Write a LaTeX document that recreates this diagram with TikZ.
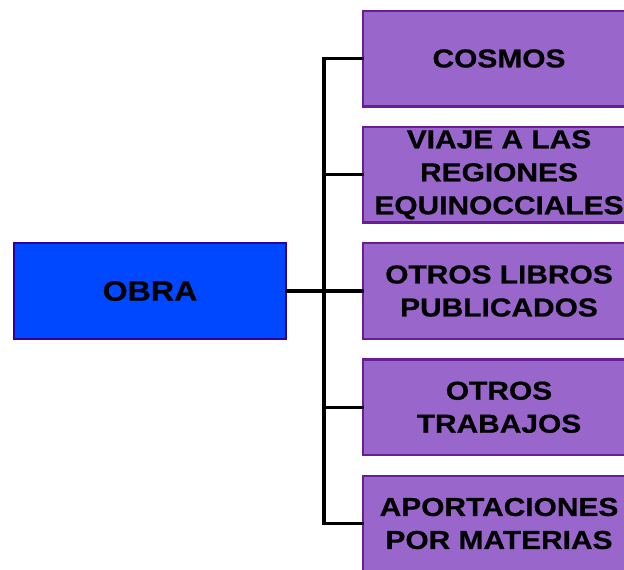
\documentclass[tikz,border=0pt]{standalone}
\usepackage{fontspec}
\newfontfamily\boxfont[FakeStretch=1.15, BoldFeatures={FakeBold=0.6}]{Liberation Sans}
\usetikzlibrary{positioning}
\definecolor{obrablue}{RGB}{0,72,255}
\definecolor{obraline}{RGB}{48,0,160}
\definecolor{itemfill}{RGB}{153,102,204}
\definecolor{itemline}{RGB}{106,30,150}

\begin{document}
\begin{tikzpicture}[
                x=1pt, y=-1pt,
                mainbox/.style={draw=obraline, fill=obrablue, line width=2.4pt,
                    minimum width=271.6pt, minimum height=95.6pt, inner sep=0pt,
                    font=\boxfont\bfseries\fontsize{28}{33}\selectfont},
                itembox/.style={draw=itemline, fill=itemfill, line width=2.4pt,
                    minimum width=271.6pt, minimum height=95.6pt, inner sep=0pt, align=center,
                    font=\boxfont\bfseries\fontsize{26}{33}\selectfont},
                conn/.style={line width=3.2pt, line cap=rect},
                node distance=18.25pt,
            ]
            \useasboundingbox (0,0) rectangle (624,570);
            \begin{scope}
            \clip (0,0) rectangle (624,570);

            % === root ===
            \node[mainbox] (obra) at (150,291) {OBRA};

            % === branches ===
            \node[itembox] (cosmos) at (499,58.5) {COSMOS};
            \node[itembox, below=of cosmos] (viaje) {VIAJE A LAS\\REGIONES\\EQUINOCCIALES};
            \node[itembox, below=of viaje] (libros) {OTROS LIBROS\\PUBLICADOS};
            \node[itembox, below=of libros] (trabajos) {OTROS\\TRABAJOS};
            \node[itembox, below=of trabajos] (aport) {APORTACIONES\\POR MATERIAS};

            % === connectors ===
            \draw[conn] (obra.east) -- ++(37,0) coordinate (hub);
            \draw[conn] (cosmos.west) -| (hub) |- (aport.west);
            \draw[conn] (viaje.west) -- (viaje.west -| hub);
            \draw[conn] (libros.west) -- (hub);
            \draw[conn] (trabajos.west) -- (trabajos.west -| hub);
            \end{scope}
            \end{tikzpicture}
\end{document}
